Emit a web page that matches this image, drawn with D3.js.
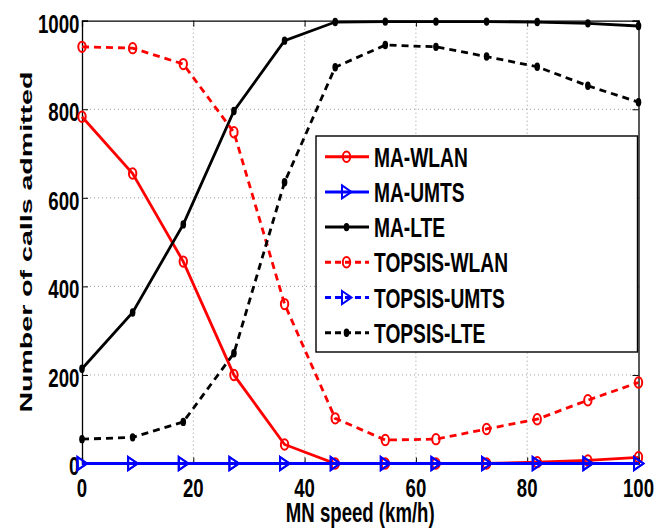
<!DOCTYPE html>
<html><head><meta charset="utf-8">
<script src="https://cdn.jsdelivr.net/npm/d3@7"></script>
<style>body{margin:0;background:#fff}svg{display:block}text{font-family:"Liberation Sans",Arial,sans-serif;font-weight:bold;fill:#000}</style>
</head><body><svg id="c" width="669" height="529"></svg>
<script>
const speed = [0, 9.1, 18.2, 27.3, 36.4, 45.5, 54.5, 63.6, 72.7, 81.8, 90.9, 100];
const maWlan = [783, 655, 456, 200, 43, 0, 0, 0, 0, 3, 7, 14];
const maUmts = [0, 0, 0, 0, 0, 0, 0, 0, 0, 0, 0, 0];
const maLte = [214, 341, 540, 796, 955, 997, 998, 998, 998, 997, 994, 988];
const topsisWlan = [941, 938, 902, 748, 360, 102, 53, 55, 78, 100, 143, 183];
const topsisUmts = [0, 0, 0, 0, 0, 0, 0, 0, 0, 0, 0, 0];
const topsisLte = [55, 59, 94, 249, 635, 895, 945, 941, 919, 896, 853, 816];
const xTicks = [0, 20, 40, 60, 80, 100];
const yTicks = [0, 200, 400, 600, 800, 1000];
const seriesNames = ["MA-WLAN", "MA-UMTS", "MA-LTE", "TOPSIS-WLAN", "TOPSIS-UMTS", "TOPSIS-LTE"];

const series = [
  {name: seriesNames[0], values: maWlan, color: "#ff0000", dash: null, marker: "circle"},
  {name: seriesNames[1], values: maUmts, color: "#0000ff", dash: null, marker: "tri"},
  {name: seriesNames[2], values: maLte, color: "#000000", dash: null, marker: "dot"},
  {name: seriesNames[3], values: topsisWlan, color: "#ff0000", dash: "7,5", marker: "circle"},
  {name: seriesNames[4], values: topsisUmts, color: "#0000ff", dash: "7,5", marker: "tri"},
  {name: seriesNames[5], values: topsisLte, color: "#000000", dash: "7,5", marker: "dot"}
];

const L = 82, R = 638.5, T = 20.7, B = 463.5;
const x = d3.scaleLinear().domain([0, 100]).range([L, R]);
const y = d3.scaleLinear().domain([0, 1000]).range([B, T]);
const svg = d3.select("#c");

// grid
const g = svg.append("g");
g.selectAll(".gx").data(xTicks.filter(t => t > 0 && t < 100)).join("line")
  .attr("x1", d => x(d)).attr("x2", d => x(d)).attr("y1", T).attr("y2", B)
  .attr("stroke", "#999").attr("stroke-width", 1).attr("stroke-dasharray", "1,3");
g.selectAll(".gy").data(yTicks.filter(t => t > 0 && t < 1000)).join("line")
  .attr("x1", L).attr("x2", R).attr("y1", d => y(d)).attr("y2", d => y(d))
  .attr("stroke", "#999").attr("stroke-width", 1).attr("stroke-dasharray", "1,3");

// axes (inward ticks)
const axB = svg.append("g").attr("transform", `translate(0,${B})`)
  .call(d3.axisBottom(x).tickValues(xTicks).tickSize(-6).tickFormat(""));
const axT = svg.append("g").attr("transform", `translate(0,${T})`)
  .call(d3.axisTop(x).tickValues(xTicks).tickSize(-6).tickFormat(""));
const axL = svg.append("g").attr("transform", `translate(${L},0)`)
  .call(d3.axisLeft(y).tickValues(yTicks).tickSize(-6).tickFormat(""));
const axR = svg.append("g").attr("transform", `translate(${R},0)`)
  .call(d3.axisRight(y).tickValues(yTicks).tickSize(-6).tickFormat(""));
[axB, axT, axL, axR].forEach(a => {
  a.selectAll("path").attr("stroke", "#000").attr("stroke-width", 1.3);
  a.selectAll("line").attr("stroke", "#000").attr("stroke-width", 1);
});

function stretchedText(parent, txt, px, py, size, k, anchor) {
  return parent.append("text").attr("transform", `translate(${px},${py}) scale(1,${k})`)
    .attr("font-size", size).attr("text-anchor", anchor).text(txt);
}
xTicks.forEach(t => stretchedText(svg, t, x(t), 497, 18.6, 1.37, "middle"));
yTicks.forEach(t => stretchedText(svg, t, 79.5, y(t) + 11.8, 18.7, 1.37, "end"));
stretchedText(svg, "MN speed (km/h)", (L + R) / 2, 521.5, 18.6, 1.48, "middle");
svg.append("text").attr("transform", `translate(32,${(T + B) / 2}) rotate(-90)`)
  .attr("font-size", 16.5).attr("text-anchor", "middle")
  .attr("textLength", 341).attr("lengthAdjust", "spacingAndGlyphs")
  .text("Number of calls admitted");

function drawMarker(sel, m, color) {
  if (m === "circle") {
    sel.append("ellipse").attr("rx", 3.7).attr("ry", 5.2).attr("fill", "none")
      .attr("stroke", color).attr("stroke-width", 2);
  } else if (m === "tri") {
    sel.append("path").attr("d", "M-4.5,-6.5L5,0L-4.5,6.5Z").attr("fill", "none")
      .attr("stroke", color).attr("stroke-width", 2);
  } else {
    sel.append("ellipse").attr("rx", 2.8).attr("ry", 4.2).attr("fill", color);
  }
}

const line = d3.line().x((d, i) => x(speed[i])).y(d => y(d));
const plot = svg.append("g");
series.forEach(s => {
  plot.append("path").attr("d", line(s.values)).attr("fill", "none")
    .attr("stroke", s.color).attr("stroke-width", 2.8)
    .attr("stroke-dasharray", s.dash);
  s.values.forEach((v, i) => {
    const mg = plot.append("g").attr("transform", `translate(${x(speed[i])},${y(v)})`);
    drawMarker(mg, s.marker, s.color);
  });
});

// legend
const lg = svg.append("g");
lg.append("rect").attr("x", 316).attr("y", 136).attr("width", 321.5).attr("height", 216)
  .attr("fill", "#fff").attr("stroke", "#000").attr("stroke-width", 1.4);
series.forEach((s, i) => {
  const cy = 156.7 + i * 35.2;
  lg.append("line").attr("x1", 325).attr("x2", 369).attr("y1", cy).attr("y2", cy)
    .attr("stroke", s.color).attr("stroke-width", 3).attr("stroke-dasharray", s.dash ? "6,4" : null);
  const mg = lg.append("g").attr("transform", `translate(346.5,${cy})`);
  drawMarker(mg, s.marker, s.color);
  stretchedText(lg, s.name, 374, cy + 10, 19.2, 1.45, "start");
});
</script></body></html>
